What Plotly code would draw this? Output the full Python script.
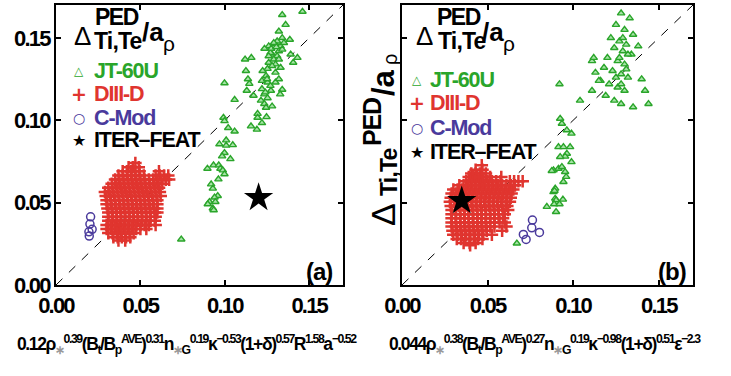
import plotly.graph_objects as go

W, H = 731, 376

# ---------------- data ----------------
# Panel (a): JT-60U
jt_a = [
    (0.134, 0.164), (0.146, 0.166), (0.136, 0.158), (0.132, 0.154), (0.134, 0.150),
    (0.1385, 0.149), (0.130, 0.1465), (0.126, 0.145), (0.1235, 0.1435), (0.128, 0.140),
    (0.132, 0.142), (0.139, 0.140), (0.143, 0.138), (0.1405, 0.135), (0.112, 0.137),
    (0.1157, 0.138), (0.126, 0.135), (0.130, 0.134), (0.133, 0.132), (0.1253, 0.1313),
    (0.1125, 0.130), (0.1224, 0.130), (0.1244, 0.127), (0.1137, 0.125), (0.132, 0.125),
    (0.130, 0.123), (0.122, 0.124), (0.0998, 0.1226), (0.1145, 0.1222), (0.1253, 0.123),
    (0.113, 0.118), (0.1273, 0.118), (0.134, 0.1186), (0.1328, 0.1158), (0.1234, 0.1158),
    (0.117, 0.115), (0.1058, 0.1125), (0.1214, 0.112), (0.1253, 0.1135), (0.1234, 0.110),
    (0.128, 0.1085), (0.1244, 0.1077), (0.1194, 0.104), (0.1194, 0.1016), (0.1247, 0.102),
    (0.0992, 0.1016), (0.0998, 0.0996), (0.122, 0.0984), (0.1155, 0.0964), (0.119, 0.0944),
    (0.102, 0.0954), (0.1058, 0.0933), (0.1008, 0.0879), (0.0968, 0.0855), (0.1008, 0.0847),
    (0.1047, 0.085), (0.0998, 0.0802), (0.0984, 0.0782), (0.1033, 0.0765), (0.0933, 0.0727),
    (0.0897, 0.0707), (0.0964, 0.0727), (0.0974, 0.0707), (0.0988, 0.0697), (0.0998, 0.0673),
    (0.0962, 0.0642), (0.0919, 0.0612), (0.0929, 0.0586), (0.0958, 0.0541), (0.0939, 0.0532),
    (0.0909, 0.0505), (0.0944, 0.0505), (0.0899, 0.0491), (0.0929, 0.0465), (0.0934, 0.0455),
    (0.0742, 0.0277),
    (0.131, 0.148), (0.133, 0.145), (0.129, 0.147), (0.127, 0.141), (0.131, 0.139),
    (0.129, 0.137), (0.134, 0.143), (0.126, 0.139), (0.128, 0.133), (0.130, 0.129),
    (0.125, 0.125), (0.127, 0.121), (0.122, 0.119), (0.124, 0.117), (0.135, 0.147),
    (0.132, 0.137), (0.1275, 0.1435), (0.1305, 0.1445),
]

# Panel (b): JT-60U
jt_b = [
    (0.128, 0.165), (0.133, 0.162), (0.125, 0.158), (0.130, 0.155), (0.135, 0.152),
    (0.122, 0.150), (0.127, 0.148), (0.131, 0.146), (0.124, 0.144), (0.129, 0.142),
    (0.134, 0.140), (0.120, 0.138), (0.126, 0.136), (0.130, 0.134), (0.118, 0.132),
    (0.123, 0.130), (0.128, 0.128), (0.132, 0.126), (0.116, 0.124), (0.121, 0.122),
    (0.126, 0.120), (0.130, 0.118), (0.119, 0.115), (0.124, 0.112), (0.128, 0.110),
    (0.135, 0.108), (0.140, 0.125), (0.138, 0.145), (0.129, 0.150), (0.132, 0.140),
    (0.127, 0.138), (0.131, 0.131), (0.125, 0.126), (0.128, 0.122), (0.144, 0.110),
    (0.142, 0.118),
    (0.111, 0.136), (0.112, 0.138), (0.092, 0.122), (0.104, 0.112), (0.113, 0.129),
    (0.111, 0.118), (0.115, 0.124), (0.0924, 0.101), (0.0934, 0.098), (0.0963, 0.094),
    (0.099, 0.092), (0.0914, 0.0838), (0.0943, 0.0838), (0.0982, 0.0838), (0.0963, 0.0798),
    (0.0953, 0.078), (0.099, 0.0747), (0.0885, 0.0697), (0.0914, 0.0707), (0.0934, 0.0717),
    (0.0953, 0.0687), (0.0943, 0.0626), (0.0895, 0.0586), (0.0885, 0.0565), (0.0895, 0.0525),
    (0.0924, 0.0778), (0.0875, 0.0693), (0.0959, 0.0657), (0.0891, 0.0572), (0.094, 0.0519),
    (0.090, 0.0515), (0.0846, 0.0475), (0.0889, 0.0491), (0.092, 0.0491), (0.090, 0.0444),
    (0.0671, 0.0253),
]

# DIII-D, panel (a): rows of (y, [x ...])
d3_a_rows = [
    (0.074, [0.047]),
    (0.0715, [0.043, 0.0455, 0.049]),
    (0.069, [0.0395, 0.042, 0.0445, 0.047, 0.0495, 0.061]),
    (0.0665, [0.037, 0.0395, 0.042, 0.0445, 0.047, 0.0495, 0.052, 0.059, 0.0615, 0.064, 0.0665]),
    (0.064, [0.035, 0.0375, 0.040, 0.0425, 0.045, 0.0475, 0.050, 0.0525, 0.055, 0.0575, 0.060, 0.0625, 0.065, 0.067]),
    (0.0615, [0.033, 0.0355, 0.038, 0.0405, 0.043, 0.0455, 0.048, 0.0505, 0.053, 0.0555, 0.058, 0.0605, 0.063]),
    (0.059, [0.031, 0.0335, 0.036, 0.0385, 0.041, 0.0435, 0.046, 0.0485, 0.051, 0.0535, 0.056, 0.0585, 0.061]),
    (0.0565, [0.029, 0.0315, 0.034, 0.0365, 0.039, 0.0415, 0.044, 0.0465, 0.049, 0.0515, 0.054, 0.0565, 0.059, 0.0615]),
    (0.054, [0.0295, 0.032, 0.0345, 0.037, 0.0395, 0.042, 0.0445, 0.047, 0.0495, 0.052, 0.0545, 0.057, 0.0595, 0.062]),
    (0.0515, [0.030, 0.0325, 0.035, 0.0375, 0.040, 0.0425, 0.045, 0.0475, 0.050, 0.0525, 0.055, 0.0575, 0.060]),
    (0.049, [0.030, 0.0325, 0.035, 0.0375, 0.040, 0.0425, 0.045, 0.0475, 0.050, 0.0525, 0.055, 0.0575, 0.060]),
    (0.0465, [0.0305, 0.033, 0.0355, 0.038, 0.0405, 0.043, 0.0455, 0.048, 0.0505, 0.053, 0.0555, 0.058, 0.060]),
    (0.044, [0.031, 0.0335, 0.036, 0.0385, 0.041, 0.0435, 0.046, 0.0485, 0.051, 0.0535, 0.056, 0.0585, 0.060]),
    (0.0415, [0.031, 0.0335, 0.036, 0.0385, 0.041, 0.0435, 0.046, 0.0485, 0.051, 0.0535, 0.056, 0.059]),
    (0.039, [0.031, 0.0335, 0.036, 0.0385, 0.041, 0.0435, 0.046, 0.0485, 0.051, 0.0535, 0.056, 0.0585]),
    (0.0365, [0.030, 0.0325, 0.035, 0.0375, 0.040, 0.0425, 0.045, 0.0475, 0.050, 0.0525, 0.055, 0.059]),
    (0.034, [0.030, 0.0325, 0.035, 0.0375, 0.040, 0.0425, 0.045, 0.0475, 0.050, 0.0535]),
    (0.0315, [0.031, 0.0335, 0.036, 0.0385, 0.041, 0.0435, 0.046]),
    (0.029, [0.034, 0.0365, 0.039, 0.0415, 0.044]),
    (0.027, [0.037, 0.041]),
]

# DIII-D, panel (b)
d3_b_rows = [
    (0.0727, [0.0466]),
    (0.070, [0.043, 0.047]),
    (0.0677, [0.0405, 0.043, 0.0455, 0.049]),
    (0.0655, [0.039, 0.0415, 0.044, 0.0465, 0.049, 0.0515, 0.058]),
    (0.063, [0.0375, 0.040, 0.0425, 0.045, 0.0475, 0.050, 0.0525, 0.055, 0.0575, 0.063, 0.0655, 0.068, 0.0705]),
    (0.0605, [0.0335, 0.036, 0.0385, 0.041, 0.0435, 0.046, 0.0485, 0.051, 0.0535, 0.056, 0.0585, 0.061, 0.0635, 0.066]),
    (0.058, [0.030, 0.0325, 0.035, 0.0375, 0.040, 0.0425, 0.045, 0.0475, 0.050, 0.0525, 0.055, 0.0575, 0.060, 0.0625, 0.065]),
    (0.0555, [0.029, 0.0315, 0.034, 0.0365, 0.039, 0.0415, 0.044, 0.0465, 0.049, 0.0515, 0.054, 0.0565, 0.059, 0.0615, 0.064]),
    (0.053, [0.0285, 0.031, 0.0335, 0.036, 0.0385, 0.041, 0.0435, 0.046, 0.0485, 0.051, 0.0535, 0.056, 0.0585, 0.061, 0.0635]),
    (0.0505, [0.028, 0.0305, 0.033, 0.0355, 0.038, 0.0405, 0.043, 0.0455, 0.048, 0.0505, 0.053, 0.0555, 0.058, 0.0605, 0.063]),
    (0.048, [0.0285, 0.031, 0.0335, 0.036, 0.0385, 0.041, 0.0435, 0.046, 0.0485, 0.051, 0.0535, 0.056, 0.0585, 0.0615]),
    (0.0455, [0.029, 0.0315, 0.034, 0.0365, 0.039, 0.0415, 0.044, 0.0465, 0.049, 0.0515, 0.054, 0.0565, 0.059, 0.062]),
    (0.043, [0.029, 0.0315, 0.034, 0.0365, 0.039, 0.0415, 0.044, 0.0465, 0.049, 0.0515, 0.054, 0.0565, 0.060]),
    (0.0405, [0.029, 0.0315, 0.034, 0.0365, 0.039, 0.0415, 0.044, 0.0465, 0.049, 0.0515, 0.054, 0.0565, 0.059]),
    (0.038, [0.029, 0.0315, 0.034, 0.0365, 0.039, 0.0415, 0.044, 0.0465, 0.049, 0.0515, 0.054, 0.057, 0.060]),
    (0.0355, [0.029, 0.0315, 0.034, 0.0365, 0.039, 0.0415, 0.044, 0.0465, 0.049, 0.0515, 0.054, 0.061]),
    (0.033, [0.0295, 0.032, 0.0345, 0.037, 0.0395, 0.042, 0.0445, 0.047, 0.0495, 0.0585]),
    (0.0305, [0.030, 0.0325, 0.035, 0.0375, 0.040, 0.0425, 0.045, 0.0475, 0.0525]),
    (0.028, [0.032, 0.0345, 0.037, 0.0395, 0.042, 0.0445, 0.047]),
    (0.0255, [0.036, 0.0395, 0.043]),
    (0.0242, [0.0398]),
]

cmod_a = [(0.0205, 0.0414), (0.0201, 0.037), (0.0214, 0.0338), (0.0195, 0.0323), (0.0197, 0.0297)]
cmod_b = [(0.0762, 0.0394), (0.0758, 0.0347), (0.0803, 0.0319), (0.0709, 0.0307), (0.0725, 0.0277)]

iter_a = [(0.120, 0.053)]
iter_b = [(0.0349, 0.0511)]

diag = [0.0, 0.17]
ticks = [0.0, 0.05, 0.10, 0.15]
tick_text = ["0.00", "0.05", "0.10", "0.15"]

# ---------------- styling ----------------
FONT = "Liberation Sans, Arial, sans-serif"
GREEN = "#2aa52a"
GREEN_FILL = "#a6e3a6"
RED = "#e0352f"
PURPLE = "#4a3a9c"


def tight(s, ls):
    return "<span style='letter-spacing:{}px'>{}</span>".format(ls, s)


def px(x):
    return x / W


def py(y):
    return 1 - y / H


def xy(pts):
    return [p[0] for p in pts], [p[1] for p in pts]


def rows_xy(rows):
    xs, ys = [], []
    for y, xl in rows:
        for x in xl:
            xs.append(x)
            ys.append(y)
    return xs, ys


fig = go.Figure()

for xa, ya, jt, d3, cm, it in [("x", "y", jt_a, d3_a_rows, cmod_a, iter_a),
                                ("x2", "y2", jt_b, d3_b_rows, cmod_b, iter_b)]:
    fig.add_trace(go.Scatter(x=diag, y=diag, mode="lines", xaxis=xa, yaxis=ya,
                             line=dict(color="black", width=1, dash="dash"), showlegend=False))
    x, y = rows_xy(d3)
    fig.add_trace(go.Scatter(x=x, y=y, mode="markers", xaxis=xa, yaxis=ya, showlegend=False,
                             marker=dict(symbol="cross-thin", size=9, color=RED,
                                         line=dict(color=RED, width=2.5))))
    x, y = xy(jt)
    fig.add_trace(go.Scatter(x=x, y=y, mode="markers", xaxis=xa, yaxis=ya, showlegend=False,
                             marker=dict(symbol="triangle-up", size=6.5, color=GREEN_FILL,
                                         line=dict(color=GREEN, width=1.4))))
    x, y = xy(cm)
    fig.add_trace(go.Scatter(x=x, y=y, mode="markers", xaxis=xa, yaxis=ya, showlegend=False,
                             marker=dict(symbol="circle-open", size=8, color=PURPLE,
                                         line=dict(color=PURPLE, width=1.5))))
    x, y = xy(it)
    fig.add_trace(go.Scatter(x=x, y=y, mode="markers", xaxis=xa, yaxis=ya, showlegend=False,
                             marker=dict(symbol="star", size=22, color="black")))

ax_common = dict(range=[0, 0.17], tickvals=ticks, ticktext=[tight(t, -1.8) for t in tick_text],
                 showline=True, linewidth=2, linecolor="black", mirror="ticks", ticks="inside",
                 ticklen=5, tickwidth=1.5, tickcolor="black", showgrid=False, zeroline=False,
                 automargin=False,
                 tickfont=dict(family=FONT, size=22, color="black", weight=700))

fig.update_layout(
    width=W, height=H, margin=dict(l=0, r=0, t=0, b=0),
    paper_bgcolor="white", plot_bgcolor="white",
    xaxis=dict(domain=[px(56), px(343)], anchor="y", **ax_common),
    yaxis=dict(domain=[py(285), py(5)], anchor="x", **ax_common),
    xaxis2=dict(domain=[px(402), px(693)], anchor="y2", **ax_common),
    yaxis2=dict(domain=[py(285), py(5)], anchor="x2", showticklabels=False, **ax_common),
)

ann = []


def text(x, y, s, size, color="black", bold=True, xanchor="left", angle=0, family=FONT):
    ann.append(dict(xref="paper", yref="paper", x=px(x), y=py(y), text=s, showarrow=False,
                    xanchor=xanchor, yanchor="middle", textangle=angle,
                    font=dict(family=family, size=size, color=color, weight=700 if bold else 400)))


# titles inside the panels
for dx, pedx, tix, ax_, rhox in [(72, 93, 92, 140, 161), (414, 435, 436, 480, 501)]:
    text(dx, 36, "Δ", 26, bold=False)
    text(pedx, 17, tight("PED", -1.5), 23)
    text(tix, 41, tight("Ti,Te", -0.8), 23)
    text(ax_, 32, "/a", 26)
    text(rhox, 43, "ρ", 21, bold=False)

# legends
for mx, tx, rows in [(79, 92, [71, 94, 118, 140]), (417, 428, [80, 103, 128, 152])]:
    items = [("△", "JT-60U", GREEN, 12), ("+", "DIII-D", RED, 19),
             ("○", "C-Mod", PURPLE, 14), ("★", "ITER–FEAT", "black", 16)]
    for (sym, lab, col, ssz), yy in zip(items, rows):
        text(mx, yy, sym, ssz, color=col, xanchor="center", family="DejaVu Sans")
        text(tx, yy, tight(lab, -1.1), 21.5, color=col)

# panel labels
text(319, 271, tight("(a)", -1), 24, xanchor="center")
text(672, 271, tight("(b)", -1), 24, xanchor="center")

# rotated y title of panel (b), built from pieces (stacked super/subscript)
text(383, 214, "Δ", 34, bold=False, xanchor="center", angle=-90)
text(389, 172, tight("Ti,Te", -0.8), 23, xanchor="center", angle=-90)
text(372, 122, tight("PED", -1.2), 25, xanchor="center", angle=-90)
text(383, 82, "/a", 31, xanchor="center", angle=-90)
text(390, 60, "ρ", 20, bold=False, xanchor="center", angle=-90)

# formulas below (tight letter spacing to mimic the condensed face)
STAR = "<span style='color:#999999'>∗</span>"
f_a = ("0.12ρ<sub>" + STAR + "</sub><sup>0.39</sup>(B<sub>t</sub>/B<sub>p</sub><sup>AVE</sup>)<sup>0.31</sup>"
       "n<sub>" + STAR + "G</sub><sup>0.19</sup>κ<sup>−0.53</sup>(1+δ)<sup>0.57</sup>R<sup>1.58</sup>a<sup>−0.52</sup>")
f_b = ("0.044ρ<sub>" + STAR + "</sub><sup>0.38</sup>(B<sub>t</sub>/B<sub>p</sub><sup>AVE</sup>)<sup>0.27</sup>"
       "n<sub>" + STAR + "G</sub><sup>0.19</sup>κ<sup>−0.98</sup>(1+δ)<sup>0.51</sup>ε<sup>−2.3</sup>")
text(187, 344, tight(f_a, -1.4), 17.5, xanchor="center")
text(545, 344, tight(f_b, -1.4), 17.5, xanchor="center")

fig.update_layout(annotations=ann)
fig.write_html("out.html", config={"displayModeBar": False},
               post_script="document.body.style.margin='0px';document.body.style.overflow='hidden';")
